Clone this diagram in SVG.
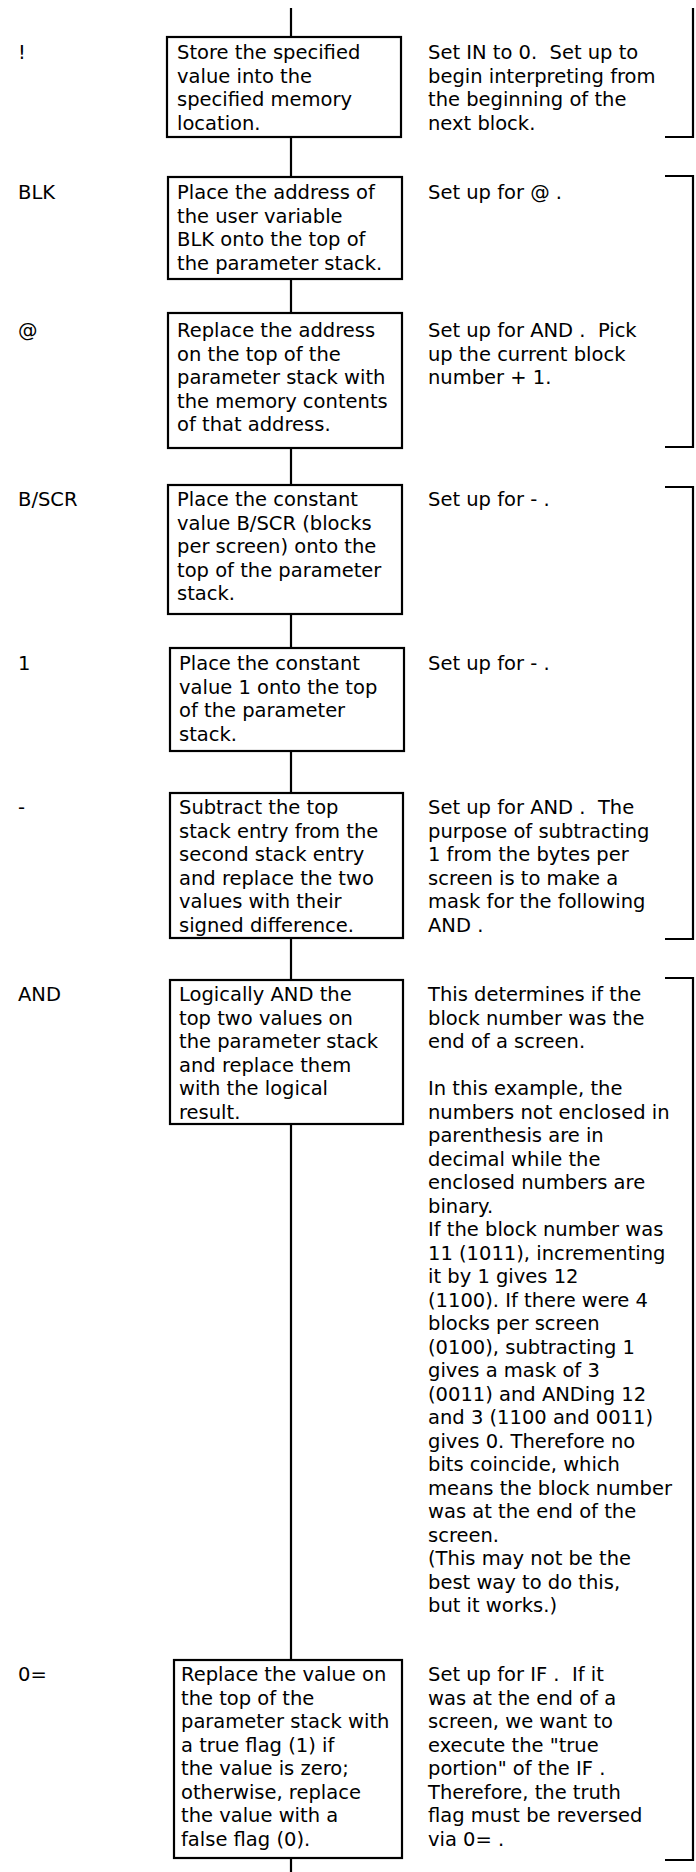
<svg xmlns="http://www.w3.org/2000/svg" width="696" height="1872" viewBox="0 0 696 1872">
<style>
.box{fill:#fff;stroke:#000;stroke-width:2.2}
.t{font-family:"DejaVu Sans",sans-serif;font-size:19.5px;fill:#000}
.conn{stroke:#000;stroke-width:2.2;fill:none}
</style>
<rect width="696" height="1872" fill="#fff"/>
<g id="connectors">
<path class="conn" d="M291,8V37M291,137V177M291,279V313M291,448V485M291,614V648M291,751V793M291,938V980M291,1124V1660M291,1858V1872"/>
<path class="conn" d="M693,8V137H665M665,176H693V447H665M665,487H693V939H665M665,978H693V1860H665"/>
</g>
<g id="n1">
<text class="t" x="18" y="59">!</text>
<rect class="box" x="167" y="37" width="234" height="100"/>
<text class="t" y="59"><tspan x="177">Store the specified</tspan><tspan x="177" dy="23.5">value into the</tspan><tspan x="177" dy="23.5">specified memory</tspan><tspan x="177" dy="23.5">location.</tspan></text>
<text class="t" y="59"><tspan x="428">Set IN to 0.&#160; Set up to</tspan><tspan x="428" dy="23.5">begin interpreting from</tspan><tspan x="428" dy="23.5">the beginning of the</tspan><tspan x="428" dy="23.5">next block.</tspan></text>
</g>
<g id="n2">
<text class="t" x="18" y="199">BLK</text>
<rect class="box" x="168" y="177" width="234" height="102"/>
<text class="t" y="199"><tspan x="177">Place the address of</tspan><tspan x="177" dy="23.5">the user variable</tspan><tspan x="177" dy="23.5">BLK onto the top of</tspan><tspan x="177" dy="23.5">the parameter stack.</tspan></text>
<text class="t" x="428" y="199">Set up for @ .</text>
</g>
<g id="n3">
<text class="t" x="18" y="337">@</text>
<rect class="box" x="168" y="313" width="234" height="135"/>
<text class="t" y="337"><tspan x="177">Replace the address</tspan><tspan x="177" dy="23.5">on the top of the</tspan><tspan x="177" dy="23.5">parameter stack with</tspan><tspan x="177" dy="23.5">the memory contents</tspan><tspan x="177" dy="23.5">of that address.</tspan></text>
<text class="t" y="337"><tspan x="428">Set up for AND .&#160; Pick</tspan><tspan x="428" dy="23.5">up the current block</tspan><tspan x="428" dy="23.5">number + 1.</tspan></text>
</g>
<g id="n4">
<text class="t" x="18" y="506">B/SCR</text>
<rect class="box" x="168" y="485" width="234" height="129"/>
<text class="t" y="506"><tspan x="177">Place the constant</tspan><tspan x="177" dy="23.5">value B/SCR (blocks</tspan><tspan x="177" dy="23.5">per screen) onto the</tspan><tspan x="177" dy="23.5">top of the parameter</tspan><tspan x="177" dy="23.5">stack.</tspan></text>
<text class="t" x="428" y="506">Set up for - .</text>
</g>
<g id="n5">
<text class="t" x="18" y="670">1</text>
<rect class="box" x="170" y="648" width="234" height="103"/>
<text class="t" y="670"><tspan x="179">Place the constant</tspan><tspan x="179" dy="23.5">value 1 onto the top</tspan><tspan x="179" dy="23.5">of the parameter</tspan><tspan x="179" dy="23.5">stack.</tspan></text>
<text class="t" x="428" y="670">Set up for - .</text>
</g>
<g id="n6">
<text class="t" x="18" y="814">-</text>
<rect class="box" x="170" y="793" width="233" height="145"/>
<text class="t" y="814"><tspan x="179">Subtract the top</tspan><tspan x="179" dy="23.5">stack entry from the</tspan><tspan x="179" dy="23.5">second stack entry</tspan><tspan x="179" dy="23.5">and replace the two</tspan><tspan x="179" dy="23.5">values with their</tspan><tspan x="179" dy="23.5">signed difference.</tspan></text>
<text class="t" y="814"><tspan x="428">Set up for AND .&#160; The</tspan><tspan x="428" dy="23.5">purpose of subtracting</tspan><tspan x="428" dy="23.5">1 from the bytes per</tspan><tspan x="428" dy="23.5">screen is to make a</tspan><tspan x="428" dy="23.5">mask for the following</tspan><tspan x="428" dy="23.5">AND .</tspan></text>
</g>
<g id="n7">
<text class="t" x="18" y="1001">AND</text>
<rect class="box" x="170" y="980" width="233" height="144"/>
<text class="t" y="1001"><tspan x="179">Logically AND the</tspan><tspan x="179" dy="23.5">top two values on</tspan><tspan x="179" dy="23.5">the parameter stack</tspan><tspan x="179" dy="23.5">and replace them</tspan><tspan x="179" dy="23.5">with the logical</tspan><tspan x="179" dy="23.5">result.</tspan></text>
<text class="t" y="1001"><tspan x="428">This determines if the</tspan><tspan x="428" dy="23.5">block number was the</tspan><tspan x="428" dy="23.5">end of a screen.</tspan><tspan x="428" dy="47">In this example, the</tspan><tspan x="428" dy="23.5">numbers not enclosed in</tspan><tspan x="428" dy="23.5">parenthesis are in</tspan><tspan x="428" dy="23.5">decimal while the</tspan><tspan x="428" dy="23.5">enclosed numbers are</tspan><tspan x="428" dy="23.5">binary.</tspan><tspan x="428" dy="23.5">If the block number was</tspan><tspan x="428" dy="23.5">11 (1011), incrementing</tspan><tspan x="428" dy="23.5">it by 1 gives 12</tspan><tspan x="428" dy="23.5">(1100). If there were 4</tspan><tspan x="428" dy="23.5">blocks per screen</tspan><tspan x="428" dy="23.5">(0100), subtracting 1</tspan><tspan x="428" dy="23.5">gives a mask of 3</tspan><tspan x="428" dy="23.5">(0011) and ANDing 12</tspan><tspan x="428" dy="23.5">and 3 (1100 and 0011)</tspan><tspan x="428" dy="23.5">gives 0. Therefore no</tspan><tspan x="428" dy="23.5">bits coincide, which</tspan><tspan x="428" dy="23.5">means the block number</tspan><tspan x="428" dy="23.5">was at the end of the</tspan><tspan x="428" dy="23.5">screen.</tspan><tspan x="428" dy="23.5">(This may not be the</tspan><tspan x="428" dy="23.5">best way to do this,</tspan><tspan x="428" dy="23.5">but it works.)</tspan></text>
</g>
<g id="n8">
<text class="t" x="18" y="1681">0=</text>
<rect class="box" x="174" y="1660" width="228" height="198"/>
<text class="t" y="1681"><tspan x="181">Replace the value on</tspan><tspan x="181" dy="23.5">the top of the</tspan><tspan x="181" dy="23.5">parameter stack with</tspan><tspan x="181" dy="23.5">a true flag (1) if</tspan><tspan x="181" dy="23.5">the value is zero;</tspan><tspan x="181" dy="23.5">otherwise, replace</tspan><tspan x="181" dy="23.5">the value with a</tspan><tspan x="181" dy="23.5">false flag (0).</tspan></text>
<text class="t" y="1681"><tspan x="428">Set up for IF .&#160; If it</tspan><tspan x="428" dy="23.5">was at the end of a</tspan><tspan x="428" dy="23.5">screen, we want to</tspan><tspan x="428" dy="23.5">execute the "true</tspan><tspan x="428" dy="23.5">portion" of the IF .</tspan><tspan x="428" dy="23.5">Therefore, the truth</tspan><tspan x="428" dy="23.5">flag must be reversed</tspan><tspan x="428" dy="23.5">via 0= .</tspan></text>
</g>
</svg>
